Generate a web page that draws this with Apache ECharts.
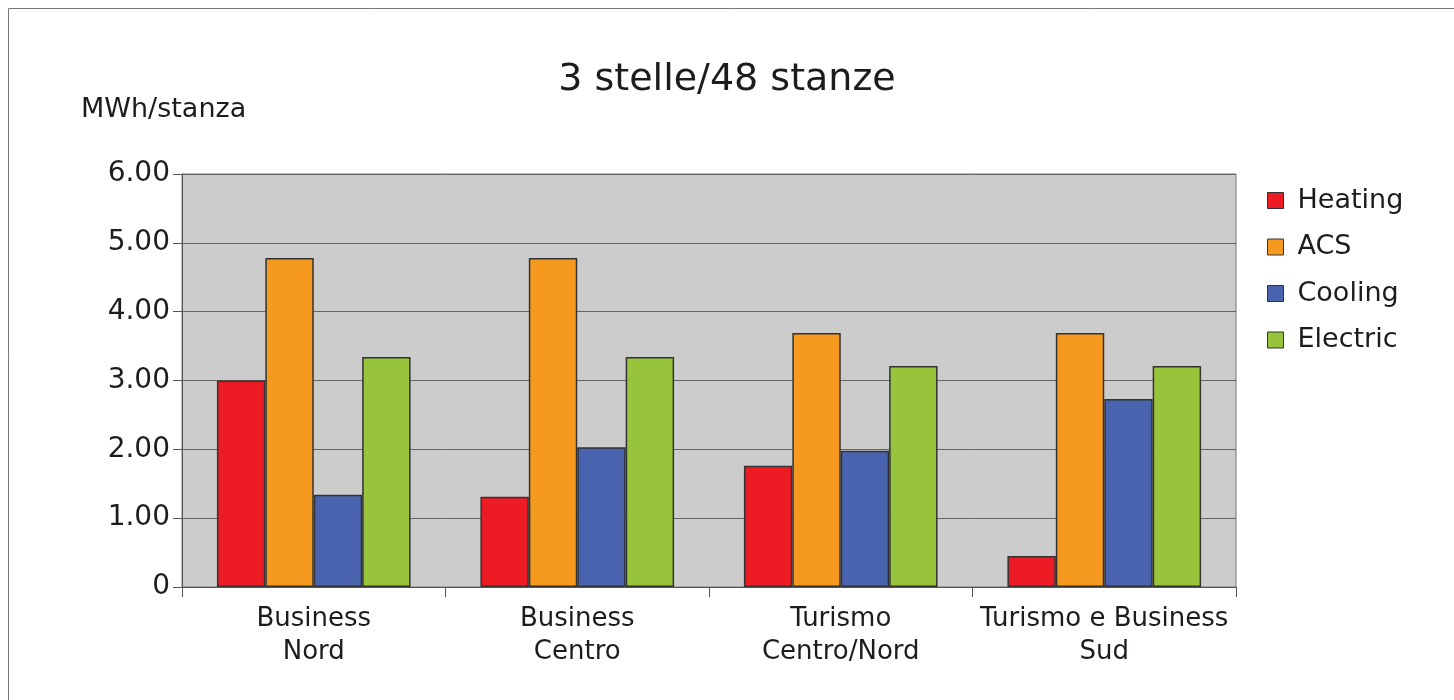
<!DOCTYPE html>
<html>
<head>
<meta charset="utf-8">
<script src="https://cdn.jsdelivr.net/npm/echarts@6/dist/echarts.min.js"></script>
<style>
  html, body { margin: 0; padding: 0; background: #fff; }
  #chart { width: 1454px; height: 700px; }
</style>
</head>
<body>
<div id="chart"></div>
<script>
// data
var categories = ['Business\nNord', 'Business\nCentro', 'Turismo\nCentro/Nord', 'Turismo e Business\nSud'];
var heating = [3.00, 1.31, 1.76, 0.45];
var acs = [4.78, 4.78, 3.69, 3.69];
var cooling = [1.34, 2.03, 1.98, 2.73];
var electric = [3.34, 3.34, 3.21, 3.21];

var seriesNames = ['Heating', 'ACS', 'Cooling', 'Electric'];
var seriesColors = ['#ED1C24', '#F6991F', '#4A63AE', '#97C43B'];
var seriesData = [heating, acs, cooling, electric];

var font = '"DejaVu Sans", sans-serif';
var ink = '#1e1b1c';

var myChart = echarts.init(document.getElementById('chart'));

var option = {
    animation: false,
    textStyle: { fontFamily: font, color: ink },
    title: [
        {
            text: '3 stelle/48 stanze',
            left: 'center',
            top: 56,
            textStyle: { fontSize: 38, fontWeight: 'normal', color: ink, fontFamily: font }
        },
        {
            text: 'MWh/stanza',
            left: 76,
            top: 91,
            textStyle: { fontSize: 27, fontWeight: 'normal', color: ink, fontFamily: font }
        }
    ],
    graphic: [{
        type: 'rect',
        shape: { x: 8.5, y: 8.5, width: 1460, height: 720 },
        style: { fill: 'none', stroke: '#777', lineWidth: 1 },
        silent: true
    }],
    legend: {
        orient: 'vertical',
        left: 1267,
        top: 187,
        padding: 0,
        itemWidth: 16,
        itemHeight: 16,
        itemGap: 19.5,
        icon: 'rect',
        data: seriesNames,
        textStyle: { fontSize: 27, color: ink, padding: [0, 0, 0, 9], fontFamily: font },
        itemStyle: { borderColor: '#333', borderWidth: 1 }
    },
    grid: {
        left: 182,
        right: 218,
        top: 174,
        bottom: 113,
        show: true,
        backgroundColor: '#cccccc',
        borderColor: '#777',
        borderWidth: 1
    },
    xAxis: {
        type: 'category',
        data: categories,
        axisLine: { lineStyle: { color: '#555', width: 1 } },
        axisTick: { show: true, interval: 0, length: 10, lineStyle: { color: '#555' } },
        axisLabel: { interval: 0, fontSize: 26, lineHeight: 33, margin: 16, color: ink, fontFamily: font }
    },
    yAxis: {
        type: 'value',
        min: 0,
        max: 6,
        interval: 1,
        axisLine: { show: true, lineStyle: { color: '#555', width: 1 } },
        axisTick: { show: true, length: 9, lineStyle: { color: '#555' } },
        splitLine: { lineStyle: { color: '#666', width: 1 } },
        axisLabel: {
            fontSize: 28,
            margin: 12,
            color: ink,
            fontFamily: font,
            formatter: function (v) { return v === 0 ? '0' : v.toFixed(2); }
        }
    },
    series: seriesNames.map(function (name, i) {
        return {
            name: name,
            type: 'bar',
            data: seriesData[i],
            barGap: '0%',
            barCategoryGap: '26.5%',
            itemStyle: { color: seriesColors[i], borderColor: '#333', borderWidth: 1.5 }
        };
    })
};

myChart.setOption(option);
</script>
</body>
</html>
